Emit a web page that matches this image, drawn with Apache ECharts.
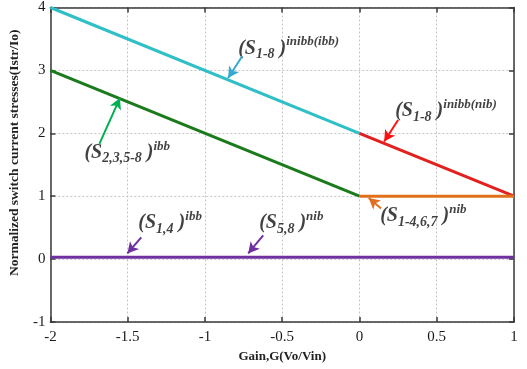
<!DOCTYPE html>
<html>
<head>
<meta charset="utf-8">
<script src="https://cdn.jsdelivr.net/npm/echarts@6/dist/echarts.min.js"></script>
<style>
html,body{margin:0;padding:0;background:#fff;}
#c{width:527px;height:369px;}
</style>
</head>
<body>
<div id="c"></div>
<script>
// ---- data ----
const xTickLabels = ['-2', '-1.5', '-1', '-0.5', '0', '0.5', '1'];
const yTickLabels = ['-1', '0', '1', '2', '3', '4'];
const cyanLine   = [[-2, 4], [0, 2]];
const redLine    = [[0, 2], [1, 1]];
const greenLine  = [[-2, 3], [0, 1]];
const orangeLine = [[0, 1], [1, 1]];
const purpleLine = [[-2, 0.03], [1, 0.03]];

// annotation labels: anchor [x, y], subscript, superscript
const annCyan   = { at: [-0.785, 3.35], sub: '1-8',       sup: 'inibb(ibb)' };
const annRed    = { at: [0.231, 2.35],  sub: '1-8',       sup: 'inibb(nib)' };
const annGreen  = { at: [-1.78, 1.69],  sub: '2,3,5-8',   sup: 'ibb' };
const annOrange = { at: [0.134, 0.68],  sub: '1-4,6,7',   sup: 'nib' };
const annPurp1  = { at: [-1.431, 0.57], sub: '1,4',       sup: 'ibb' };
const annPurp2  = { at: [-0.649, 0.57], sub: '5,8',       sup: 'nib' };

// arrows: [tail, tip]
const arrowCyan   = [[-0.759, 3.225], [-0.85, 2.88]];
const arrowRed    = [[0.250, 2.212], [0.16, 1.87]];
const arrowGreen  = [[-1.683, 1.832], [-1.55, 2.56]];
const arrowOrange = [[0.140, 0.804], [0.06, 0.97]];
const arrowPurp1  = [[-1.412, 0.345], [-1.502, 0.09]];
const arrowPurp2  = [[-0.623, 0.377], [-0.720, 0.09]];

// ---- chart ----
const serif = 'Liberation Serif';
const chart = echarts.init(document.getElementById('c'), null, {renderer: 'canvas'});

function arrowML(arr, color) {
  return {
    silent: true,
    symbol: ['none', 'arrow'],
    symbolSize: [9, 11],
    label: {show: false},
    lineStyle: {color: color, width: 2, type: 'solid'},
    emphasis: {disabled: true},
    data: [[{coord: arr[0]}, {coord: arr[1]}]]
  };
}

function lineSeries(data, color, arrow, arrowColor) {
  return {
    type: 'line', data: data, showSymbol: false, symbol: 'none',
    lineStyle: {color: color, width: 3},
    silent: true, animation: false,
    markLine: arrowML(arrow, arrowColor)
  };
}

const rich = {
  p:   {fontFamily: serif, fontSize: 20, fontWeight: 'bold', fontStyle: 'italic', color: '#111', lineHeight: 26, verticalAlign: 'middle'},
  sub: {fontFamily: serif, fontSize: 14, fontWeight: 'bold', fontStyle: 'italic', color: '#111', verticalAlign: 'bottom', lineHeight: 14},
  sup: {fontFamily: serif, fontSize: 13, fontWeight: 'bold', fontStyle: 'italic', color: '#111', verticalAlign: 'top', lineHeight: 13}
};

function annSeries(a) {
  return {
    type: 'scatter', data: [a.at], symbolSize: 0, silent: true, animation: false,
    label: {
      show: true, position: 'right', distance: 0,
      formatter: '{p|(S}{sub|' + a.sub + '}{p| )}{sup|' + a.sup + '}',
      rich: rich
    }
  };
}

const axisLineStyle = {color: '#3a3a3a', width: 1.5};
const labelStyle = {fontFamily: serif, fontSize: 15, color: '#1a1a1a'};

chart.setOption({
  animation: false,
  backgroundColor: '#fff',
  grid: {left: 49, right: 13, top: 6, bottom: 47, containLabel: false},
  xAxis: [{
    type: 'value', min: -2, max: 1, interval: 0.5, position: 'bottom',
    name: 'Gain,G(Vo/Vin)', nameLocation: 'middle', nameGap: 23,
    nameTextStyle: {fontFamily: serif, fontSize: 13, fontWeight: 'bold', color: '#222'},
    axisLine: {show: true, lineStyle: axisLineStyle, onZero: false},
    axisTick: {show: true, inside: true, length: 5, lineStyle: axisLineStyle},
    axisLabel: Object.assign({margin: 8, formatter: (v) => xTickLabels[Math.round((v + 2) * 2)]}, labelStyle),
    splitLine: {show: true, lineStyle: {color: '#c4c4c4', width: 1, type: [2, 2]}}
  }, {
    type: 'value', min: -2, max: 1, interval: 0.5, position: 'top',
    axisLine: {show: true, lineStyle: axisLineStyle, onZero: false},
    axisTick: {show: true, inside: true, length: 5, lineStyle: axisLineStyle},
    axisLabel: {show: false}, splitLine: {show: false}
  }],
  yAxis: [{
    type: 'value', min: -1, max: 4, interval: 1, position: 'left',
    name: 'Normalized switch current stresses(Istr/Io)', nameLocation: 'middle', nameGap: 19,
    nameTextStyle: {fontFamily: serif, fontSize: 13.5, fontWeight: 'bold', color: '#222', padding: [0, 0, 0, 24]},
    axisLine: {show: true, lineStyle: axisLineStyle, onZero: false},
    axisTick: {show: true, inside: true, length: 5, lineStyle: axisLineStyle},
    axisLabel: Object.assign({margin: 5, formatter: (v) => yTickLabels[Math.round(v + 1)]}, labelStyle),
    splitLine: {show: true, lineStyle: {color: '#c4c4c4', width: 1, type: [2, 2]}}
  }, {
    type: 'value', min: -1, max: 4, interval: 1, position: 'right',
    axisLine: {show: true, lineStyle: axisLineStyle, onZero: false},
    axisTick: {show: true, inside: true, length: 5, lineStyle: axisLineStyle},
    axisLabel: {show: false}, splitLine: {show: false}
  }],
  series: [
    lineSeries(cyanLine, '#2fbfc6', arrowCyan, '#35a9cf'),
    lineSeries(greenLine, '#1b7a1b', arrowGreen, '#00b050'),
    lineSeries(purpleLine, '#7030a0', arrowPurp1, '#7030a0'),
    lineSeries(redLine, '#e2201f', arrowRed, '#ff1010'),
    lineSeries(orangeLine, '#e0701a', arrowOrange, '#e07020'),
    {type: 'line', data: [], markLine: arrowML(arrowPurp2, '#7030a0')},
    annSeries(annCyan), annSeries(annRed), annSeries(annGreen),
    annSeries(annOrange), annSeries(annPurp1), annSeries(annPurp2)
  ]
});
</script>
</body>
</html>
